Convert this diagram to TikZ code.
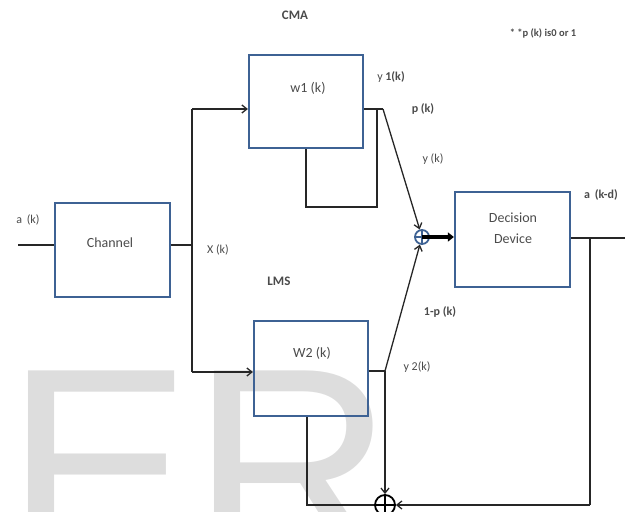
\documentclass[tikz,border=0pt]{standalone}
\usepackage{fontspec}
\setmainfont{Carlito}
\setsansfont{Liberation Sans}
\usetikzlibrary{arrows.meta}
\definecolor{boxblue}{RGB}{62,98,148}
\definecolor{txtgray}{RGB}{75,75,75}
\definecolor{wmgray}{RGB}{221,221,221}
\begin{document}
\begin{tikzpicture}[x=1pt,y=-1pt,
  block/.style={draw=boxblue, line width=2.2pt, inner sep=0pt},
  boxtext/.style={text=txtgray, inner sep=0pt, font=\fontsize{14}{16}\selectfont},
  lbl/.style={text=txtgray, inner sep=0pt, font=\fontsize{12}{14}\selectfont},
  blbl/.style={lbl, font=\bfseries\fontsize{12}{14}\selectfont},
  wire/.style={draw=black!85, line width=1.3pt},
  arr/.style={wire, -{Straight Barb[length=5pt,width=8pt]}},
  sumj/.style={circle, inner sep=0pt, line width=1.8pt}]
\useasboundingbox (0,0) rectangle (625,512);

% faint lettering in the background
\begin{scope}
  \clip (0,0) rectangle (625,512);
  \node[anchor=base west, inner sep=0pt, text=wmgray,
        font=\sffamily\fontsize{280}{280}\selectfont] (wm) at (5,563) {ER};
\end{scope}

% blocks
\node[block, minimum width=115pt, minimum height=94pt] (chan) at (112.5,250) {};
\node[block, minimum width=114pt, minimum height=93pt] (w1) at (306,101.5) {};
\node[block, minimum width=114pt, minimum height=95pt] (w2) at (311,368.5) {};
\node[block, minimum width=115pt, minimum height=95pt] (dd) at (512.5,239.5) {};

\node[boxtext] (chantxt) at (110,243) {Channel};
\node[boxtext] (w1txt) at (308,88) {w1 (k)};
\node[boxtext] (w2txt) at (312,353) {W2 (k)};
\node[boxtext] (ddtxt1) at (513,218) {Decision};
\node[boxtext] (ddtxt2) at (513,239) {Device};

% summing junctions
\node[sumj, draw=boxblue, minimum size=14pt] (s1) at (422,237) {};
\draw[boxblue, line width=1.5pt] (s1.north) -- (s1.south) (s1.west) -- (s1.east);
\node[sumj, draw=black, minimum size=20pt] (s2) at (385,505) {};
\draw[black, line width=1.5pt] (s2.north) -- (s2.south) (s2.west) -- (s2.east);

% routing points
\coordinate (in) at (18,245);
\coordinate (bt) at (192,109);
\coordinate (bm) at (192,245);
\coordinate (bb) at (192,372);
\coordinate (y1) at (383,109);
\coordinate (f1a) at (377,109);
\coordinate (f1b) at (306,207);
\coordinate (y2) at (385,371);
\coordinate (f2) at (307,505);
\coordinate (ob) at (590,238);
\coordinate (oe) at (625,238);
\coordinate (c2) at (590,505);

% input and channel output bus
\draw[wire] (in) -- (in -| chan.west);
\draw[wire] (in -| chan.east) -- (bm);
\draw[wire] (bt) -- (bb);
\draw[arr] (bt) -- (bt -| w1.west);
\draw[arr] (bb) -- (bb -| w2.west);

% CMA branch
\draw[wire] (y1 -| w1.east) -- (y1);
\draw[wire] (f1a) |- (f1b) -- (w1.south -| f1b);
\draw[arr] (y1) -- (s1);

% LMS branch
\draw[wire] (y2 -| w2.east) -- (y2);
\draw[arr] (y2) -- (s1);
\draw[arr] (y2) -- (s2);
\draw[wire] (w2.south -| f2) -- (f2) -- (s2);

% combined output to decision device
\draw[line width=3.6pt, -{Triangle[length=6pt,width=9pt]}] (s1.center) -- (s1.center -| dd.west);

% decision output and error feedback
\draw[wire] (dd.east |- ob) -- (oe);
\draw[wire] (ob) -- (c2);
\draw[arr] (c2) -- (s2);

% labels
\node[lbl, font=\bfseries\fontsize{13}{15}\selectfont] (cma) at (295,15) {CMA};
\node[lbl, font=\bfseries\fontsize{13}{15}\selectfont] (lms) at (279,281) {LMS};
\node[lbl, font=\bfseries\fontsize{10.5}{12}\selectfont] (note) at (543,33) {* *p (k) is0 or 1};
\node[lbl] (ak) at (28,220) {a \,(k)};
\node[lbl] (xk) at (218,250) {X (k)};
\node[lbl] (y1k) at (391,77) {y {\bfseries 1(k)}};
\node[blbl] (pk) at (423,109) {p (k)};
\node[lbl] (yk) at (433,159) {y (k)};
\node[blbl] (ompk) at (440,312) {1-p (k)};
\node[lbl] (y2k) at (417,367) {y 2(k)};
\node[blbl] (akd) at (601,195) {a \,(k-d)};
\end{tikzpicture}
\end{document}
